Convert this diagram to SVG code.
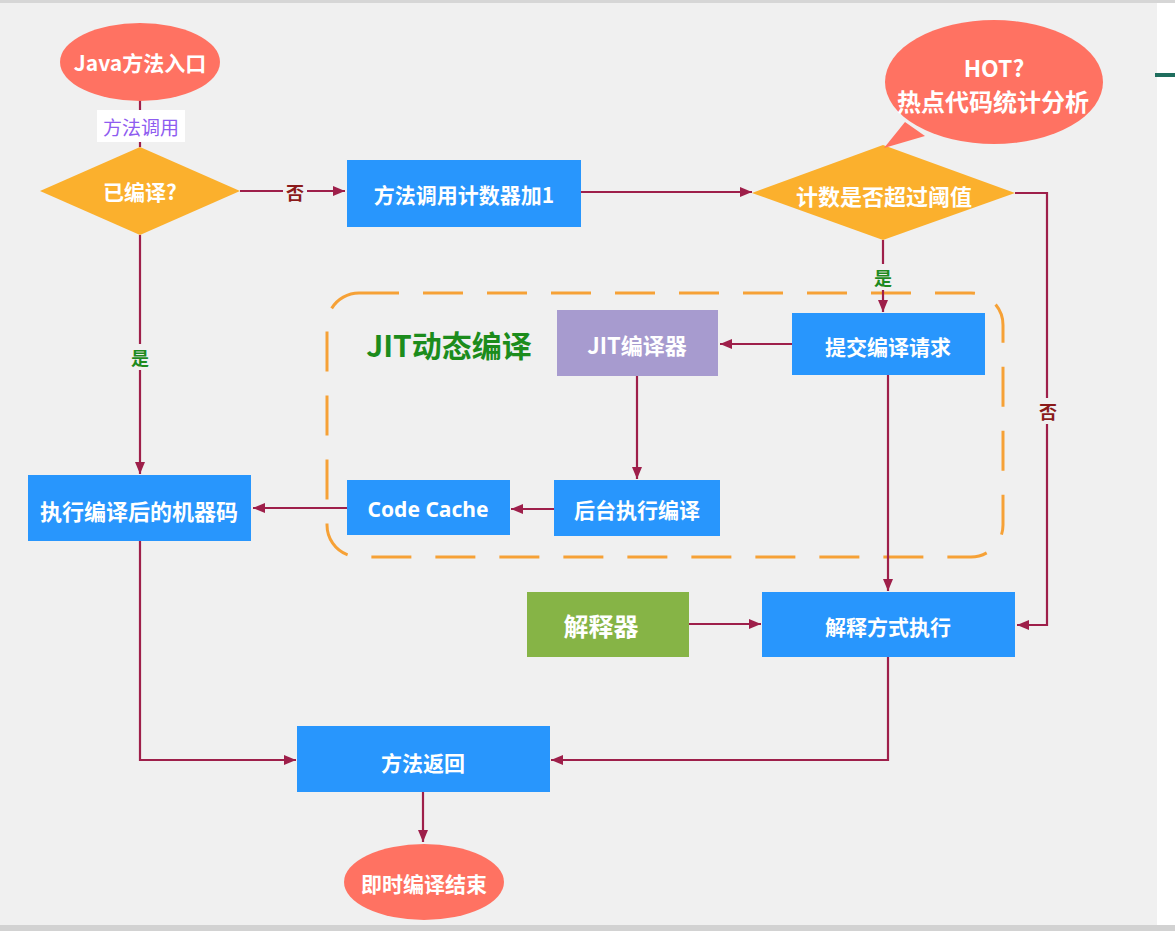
<svg xmlns="http://www.w3.org/2000/svg" width="1175" height="931" viewBox="0 0 1175 931">
<defs>
<style>
.t{font-family:"Noto Sans CJK SC","Liberation Sans",sans-serif;font-weight:bold;fill:#fff;text-anchor:middle;dominant-baseline:central;font-size:21px}
.box{fill:#2896fd}
.ln{fill:none;stroke:#9e1f4a;stroke-width:2.2}
.lab{font-family:"Noto Sans CJK SC","Liberation Sans",sans-serif;font-weight:bold;text-anchor:middle;dominant-baseline:central;font-size:18px}
</style>
<marker id="ar" viewBox="0 0 12 10" refX="12" refY="5" markerWidth="12" markerHeight="10" markerUnits="userSpaceOnUse" orient="auto">
<path d="M0,0 L12,5 L0,10 Z" fill="#9e1f4a"/>
</marker>
</defs>
<rect x="0" y="0" width="1175" height="931" fill="#ffffff"/>
<rect x="0" y="0" width="1157" height="931" fill="#f0f0f0"/>
<rect x="0" y="0" width="1175" height="3" fill="#d6d6d6"/>
<rect x="0" y="925" width="1175" height="6" fill="#d2d2d2"/>
<rect x="1155" y="73" width="20" height="4" fill="#1f6e5e"/>

<g id="jit-group">
<rect x="327" y="293" width="676" height="264" rx="32" fill="none" stroke="#f6a136" stroke-width="3" stroke-dasharray="40 24"/>
<text x="449" y="344" style="font-family:'Noto Sans CJK SC','Liberation Sans',sans-serif;font-weight:bold;font-size:30px;fill:#1c8c1c;text-anchor:middle;dominant-baseline:central">JIT动态编译</text>
</g>

<g id="connectors">
<line class="ln" x1="140" y1="100" x2="140" y2="147"/>
<line class="ln" x1="240" y1="191" x2="345" y2="191" marker-end="url(#ar)"/>
<line class="ln" x1="581" y1="192" x2="752" y2="192" marker-end="url(#ar)"/>
<line class="ln" x1="883" y1="240" x2="883" y2="312" marker-end="url(#ar)"/>
<polyline class="ln" points="1015,193 1047,193 1047,625 1017,625" marker-end="url(#ar)"/>
<line class="ln" x1="792" y1="344" x2="720" y2="344" marker-end="url(#ar)"/>
<line class="ln" x1="637" y1="376" x2="637" y2="479" marker-end="url(#ar)"/>
<line class="ln" x1="554" y1="509" x2="511" y2="509" marker-end="url(#ar)"/>
<line class="ln" x1="347" y1="508" x2="253" y2="508" marker-end="url(#ar)"/>
<line class="ln" x1="140" y1="235" x2="140" y2="474" marker-end="url(#ar)"/>
<line class="ln" x1="888" y1="375" x2="888" y2="591" marker-end="url(#ar)"/>
<line class="ln" x1="689" y1="624" x2="761" y2="624" marker-end="url(#ar)"/>
<polyline class="ln" points="888,657 888,760 551,760" marker-end="url(#ar)"/>
<polyline class="ln" points="140,541 140,760 296,760" marker-end="url(#ar)"/>
<line class="ln" x1="423" y1="792" x2="423" y2="842" marker-end="url(#ar)"/>
<rect x="97" y="110" width="88" height="32" fill="#ffffff"/>
<text class="lab" x="141" y="126" style="fill:#8e5cf0;font-weight:normal;font-size:19px">方法调用</text>
<rect x="283" y="180" width="24" height="24" fill="#f0f0f0"/>
<text class="lab" x="295" y="192" style="fill:#8b1a1a">否</text>
<rect x="128" y="344" width="24" height="26" fill="#f0f0f0"/>
<text class="lab" x="140" y="357" style="fill:#1e8a1e">是</text>
<rect x="871" y="264" width="24" height="26" fill="#f0f0f0"/>
<text class="lab" x="883" y="277" style="fill:#1e8a1e">是</text>
<rect x="1036" y="398" width="24" height="26" fill="#f0f0f0"/>
<text class="lab" x="1048" y="411" style="fill:#8b1a1a">否</text>
</g>

<g id="java-entry">
<ellipse cx="140" cy="62" rx="80" ry="39" fill="#ff7262"/>
<text class="t" x="140" y="62">Java方法入口</text>
</g>
<g id="compiled">
<polygon points="140,147 240,191 140,235 40,191" fill="#fbb02d"/>
<text class="t" x="140" y="191">已编译?</text>
</g>
<g id="counter">
<rect class="box" x="347" y="160" width="234" height="67"/>
<text class="t" x="464" y="194">方法调用计数器加1</text>
</g>
<g id="threshold">
<polygon points="883,145 1015,193 883,240 752,193" fill="#fbb02d"/>
<text class="t" x="884" y="195" style="font-size:22px">计数是否超过阈值</text>
</g>
<g id="hot">
<ellipse cx="994" cy="82" rx="109" ry="62" fill="#ff7262"/>
<polygon points="905,122 925,136 884,148" fill="#ff7262"/>
<text class="t" x="994" y="67" style="font-size:23px">HOT?</text>
<text class="t" x="993" y="100" style="font-size:24px">热点代码统计分析</text>
</g>
<g id="jit-compiler">
<rect x="557" y="310" width="161" height="66" fill="#a79bcf"/>
<text class="t" x="637" y="344" style="font-size:22px">JIT编译器</text>
</g>
<g id="submit">
<rect class="box" x="792" y="313" width="193" height="62"/>
<text class="t" x="888" y="346">提交编译请求</text>
</g>
<g id="background-compile">
<rect class="box" x="554" y="480" width="166" height="56"/>
<text class="t" x="637" y="509">后台执行编译</text>
</g>
<g id="code-cache">
<rect class="box" x="347" y="480" width="163" height="55"/>
<text class="t" x="428" y="509" style="font-family:'Noto Sans','Liberation Sans',sans-serif;font-size:21px">Code Cache</text>
</g>
<g id="exec-machine">
<rect class="box" x="28" y="475" width="223" height="66"/>
<text class="t" x="139" y="510" style="font-size:22px">执行编译后的机器码</text>
</g>
<g id="interpreter">
<rect x="527" y="592" width="162" height="65" fill="#86b446"/>
<text class="t" x="601" y="625" style="font-size:25px">解释器</text>
</g>
<g id="interpret-exec">
<rect class="box" x="762" y="592" width="253" height="65"/>
<text class="t" x="888" y="626">解释方式执行</text>
</g>
<g id="method-return">
<rect class="box" x="297" y="726" width="253" height="66"/>
<text class="t" x="423" y="762">方法返回</text>
</g>
<g id="jit-end">
<ellipse cx="424" cy="882" rx="80" ry="38" fill="#ff7262"/>
<text class="t" x="424" y="883">即时编译结束</text>
</g>
</svg>
